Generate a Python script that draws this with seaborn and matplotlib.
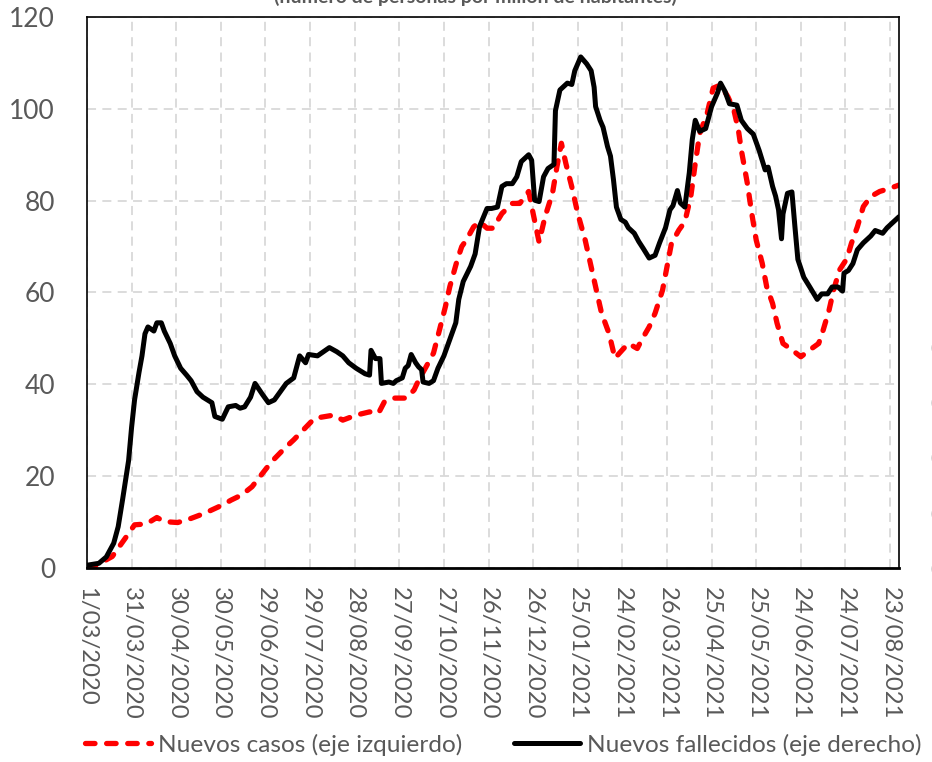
import numpy as np
import matplotlib
matplotlib.use("Agg")
import matplotlib.pyplot as plt
import pandas as pd
import seaborn as sns

start = pd.Timestamp("2020-03-01")

# nuevos casos (eje izquierdo) - dias desde 1/03/2020 y valor
casos_dias = [0, 3, 17, 28, 32, 40, 47, 52, 61, 70, 79, 91, 97, 104, 111, 118, 124, 133,
              139, 153, 166, 172, 181, 190, 196, 200, 206, 215, 220, 223, 228, 233, 237,
              241, 244, 249, 252, 255, 260, 264, 269, 273, 279, 286, 291, 297, 300, 304,
              308, 313, 316, 319, 322, 326, 330, 335, 339, 343, 346, 351, 355, 360, 364,
              370, 373, 378, 382, 387, 390, 393, 398, 402, 406, 409, 412, 417, 421, 426,
              431, 435, 438, 440, 444, 447, 450, 454, 457, 461, 464, 468, 474, 480, 486,
              492, 495, 499, 502, 506, 511, 514, 518, 522, 527, 533, 540, 546]
casos = [0, 0, 2.5, 7.5, 9.4, 9.6, 11, 10.1, 9.9, 10.8, 11.9, 13.7, 14.8, 15.9, 17.7, 20.6,
         23.1, 26.1, 27.9, 32.6, 33.3, 32.2, 33.3, 34, 33.7, 36.2, 37, 37, 38.8, 40.9, 43.8,
         46.8, 51.8, 56.9, 61.3, 67.1, 70, 71.4, 74.3, 75.4, 74, 74, 77.2, 79.4, 79.4, 82,
         77.2, 71, 76.5, 81.6, 87.4, 92.5, 88.1, 83, 77.2, 71.4, 65.6, 59.8, 55.5, 51.1,
         45.7, 47.5, 48.9, 47.8, 49.7, 52.5, 55.5, 60.5, 65.6, 70.7, 73.6, 75.4, 80.9, 88.1,
         94.6, 99, 104.5, 105.2, 102.6, 99.7, 95.4, 91, 83.8, 77.2, 71.4, 66.4, 61.3, 57.6,
         53.3, 48.9, 47.5, 46, 47.5, 48.9, 51.8, 56.2, 60.5, 64.9, 67.4, 70.7, 74.3, 78.7,
         80.9, 82, 82.7, 83.4]

# nuevos fallecidos (eje derecho)
fall_dias = [0, 8, 13, 18, 21, 24, 28, 30, 32, 35, 37, 39, 41, 45, 47, 50, 52, 56, 59, 63,
             67, 70, 74, 78, 84, 86, 91, 95, 100, 103, 106, 110, 113, 118, 122, 126, 130,
             134, 139, 141, 143, 147, 149, 155, 159, 163, 168, 172, 176, 181, 187, 190, 191,
             194, 197, 198, 203, 206, 208, 212, 214, 216, 218, 221, 223, 225, 226, 230, 233,
             236, 240, 244, 248, 250, 253, 258, 261, 264, 269, 272, 276, 279, 282, 286, 289,
             292, 297, 299, 301, 304, 307, 310, 314, 315, 318, 323, 326, 328, 332, 336, 339,
             341, 342, 345, 347, 350, 352, 354, 356, 359, 362, 364, 368, 371, 374, 378, 382,
             385, 389, 392, 394, 397, 399, 402, 405, 407, 409, 412, 416, 420, 424, 426, 429,
             432, 437, 440, 444, 448, 452, 454, 456, 458, 461, 463, 465, 467, 468, 471, 474,
             476, 478, 482, 486, 491, 494, 498, 501, 505, 508, 509, 512, 515, 518, 522, 527,
             530, 535, 538, 542, 546]
fallecidos = [0.01, 0.017, 0.04, 0.09, 0.15, 0.25, 0.39, 0.51, 0.61, 0.71, 0.77, 0.85, 0.875,
              0.86, 0.89, 0.89, 0.86, 0.815, 0.77, 0.725, 0.70, 0.68, 0.64, 0.62, 0.60, 0.55,
              0.54, 0.585, 0.59, 0.58, 0.585, 0.62, 0.67, 0.63, 0.60, 0.61, 0.64, 0.67, 0.69,
              0.73, 0.77, 0.745, 0.775, 0.77, 0.785, 0.80, 0.785, 0.77, 0.745, 0.725, 0.705,
              0.70, 0.79, 0.76, 0.76, 0.67, 0.675, 0.67, 0.68, 0.69, 0.725, 0.735, 0.775,
              0.745, 0.73, 0.72, 0.675, 0.67, 0.68, 0.725, 0.77, 0.83, 0.89, 0.975, 1.04,
              1.095, 1.14, 1.24, 1.305, 1.305, 1.31, 1.385, 1.395, 1.395, 1.42, 1.475, 1.50,
              1.48, 1.335, 1.33, 1.42, 1.45, 1.465, 1.66, 1.735, 1.76, 1.755, 1.805, 1.855,
              1.83, 1.805, 1.745, 1.675, 1.625, 1.60, 1.53, 1.495, 1.41, 1.31, 1.265, 1.255,
              1.235, 1.215, 1.185, 1.16, 1.125, 1.135, 1.18, 1.235, 1.30, 1.315, 1.37, 1.325,
              1.31, 1.435, 1.555, 1.625, 1.585, 1.595, 1.675, 1.725, 1.76, 1.73, 1.685, 1.68,
              1.625, 1.595, 1.575, 1.515, 1.48, 1.445, 1.455, 1.385, 1.35, 1.30, 1.195, 1.285,
              1.36, 1.365, 1.24, 1.12, 1.055, 1.02, 0.975, 0.995, 0.995, 1.02, 1.02, 1.005,
              1.07, 1.08, 1.105, 1.155, 1.18, 1.205, 1.225, 1.215, 1.235, 1.255, 1.275]

izq_ticks = [0, 20, 40, 60, 80, 100, 120]
der_ticks = [0, 0.2, 0.4, 0.6, 0.8, 1.0, 1.2, 1.4, 1.6, 1.8, 2.0]
der_labels = ["0,0", "0,2", "0,4", "0,6", "0,8", "1,0", "1,2", "1,4", "1,6", "1,8", "2,0"]

df_casos = pd.DataFrame({"fecha": start + pd.to_timedelta(casos_dias, unit="D"), "valor": casos})
df_fall = pd.DataFrame({"fecha": start + pd.to_timedelta(fall_dias, unit="D"), "valor": fallecidos})

sns.set_style("white")
plt.rcParams["font.family"] = ["Lato", "DejaVu Sans"]
gris = "#595959"

fig = plt.figure(figsize=(9.32, 7.62), dpi=100)
ax = fig.add_axes([0.0933, 0.2546, 0.9646 - 0.0933, 0.9777 - 0.2546])
ax2 = ax.twinx()

sns.lineplot(data=df_casos, x="fecha", y="valor", ax=ax, color="#ff0000", lw=3.8,
             linestyle=(0, (1.8, 2.2)), dash_capstyle="round",
             label="Nuevos casos (eje izquierdo)", legend=False)
sns.lineplot(data=df_fall, x="fecha", y="valor", ax=ax2, color="black", lw=3.6,
             label="Nuevos fallecidos (eje derecho)", legend=False)

ax.set_xlim(start, start + pd.Timedelta(days=546))
ax.set_ylim(0, 120)
ax2.set_ylim(0, 2.0)

xt = pd.date_range(start, start + pd.Timedelta(days=546), freq="30D")
ax.set_xticks(xt)
ax.set_xticklabels([f"{d.day}/{d.month:02d}/{d.year}" for d in xt], rotation=-90,
                   fontsize=17.2, color=gris)
ax.set_yticks(izq_ticks)
ax.set_yticklabels([str(v) for v in izq_ticks], fontsize=19, color=gris)
ax2.set_yticks(der_ticks)
ax2.set_yticklabels(der_labels, fontsize=19, color=gris)
ax.tick_params(axis="x", length=0, pad=14)
ax.tick_params(axis="y", length=0, pad=23)
ax2.tick_params(axis="y", length=0, pad=22.5)
ax.set_xlabel("")
ax.set_ylabel("")
ax2.set_ylabel("")

ax.grid(True, color="#d9d9d9", linestyle=(0, (5, 3.5)), lw=1.3)
ax.set_axisbelow(True)
for s in ["left", "right", "top", "bottom"]:
    ax.spines[s].set_color("black")
    ax.spines[s].set_linewidth(1.2)
    ax2.spines[s].set_visible(False)
ax.spines["bottom"].set_linewidth(2)

fig.text(475 / 932, 1 - 3 / 762, "(número de personas por millón de habitantes)",
         ha="center", va="baseline", fontsize=14, fontweight="bold", color=gris)

h1, l1 = ax.get_legend_handles_labels()
h2, l2 = ax2.get_legend_handles_labels()
fig.legend(h1 + h2, l1 + l2, loc="center", bbox_to_anchor=(503 / 932, 1 - 745 / 762),
           ncol=2, frameon=False, fontsize=17.6, labelcolor=gris, handlelength=2.7,
           handletextpad=0.3, columnspacing=2.1)

fig.savefig("out.png", dpi=100)
